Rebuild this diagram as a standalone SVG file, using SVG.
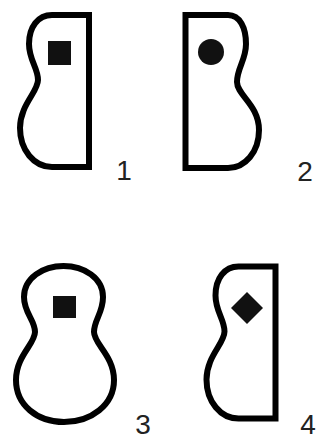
<svg xmlns="http://www.w3.org/2000/svg" width="324" height="439" viewBox="0 0 324 439">
<style>
.outline{fill:#fff;stroke:#000;stroke-width:6;stroke-linejoin:miter}
.mark{fill:#111;stroke:none}
.lbl{font-family:"Liberation Sans",Arial,sans-serif;font-size:28px;fill:#222;text-anchor:middle}
</style>
<rect width="324" height="439" fill="#fff"/>
<defs>
<path id="halfShape" d="M 89 15 L 52 15 C 38 15, 29 27, 29 44 C 29 60, 38 68, 38 80 C 38 92, 20 105, 20 128 C 20 150, 34 167, 52 167 L 89 167 Z"/>
</defs>
<g id="connectors"></g>
<g id="shape1">
<use href="#halfShape" class="outline"/>
<rect class="mark" x="48" y="41" width="23" height="24"/>
<text class="lbl" x="124" y="180">1</text>
</g>
<g id="shape2">
<path class="outline" d="M 185.5 15 L 228 15 C 240 15, 246 28, 246 44 C 246 60, 237 68, 237 82 C 237 95, 259 105, 259 130 C 259 152, 245 168, 228 168 L 185.5 168 Z"/>
<circle class="mark" cx="211" cy="52" r="13"/>
<text class="lbl" x="305" y="181">2</text>
</g>
<g id="shape3">
<path class="outline" d="M 63.5 266 C 84 266, 103 278, 103 297 C 103 313, 94 320, 94 332 C 94 344, 114 356, 114 380 C 114 405, 91 422, 64 422 C 37 422, 16 405, 16 380 C 16 356, 35 344, 35 332 C 35 320, 24 313, 24 297 C 24 278, 43 266, 63.5 266 Z"/>
<rect class="mark" x="53" y="296" width="23" height="22"/>
<text class="lbl" x="143" y="434">3</text>
</g>
<g id="shape4">
<use href="#halfShape" class="outline" transform="translate(186.5,251.5)"/>
<polygon class="mark" points="247,292 263,308 247,324 231,308"/>
<text class="lbl" x="308" y="434">4</text>
</g>
</svg>
